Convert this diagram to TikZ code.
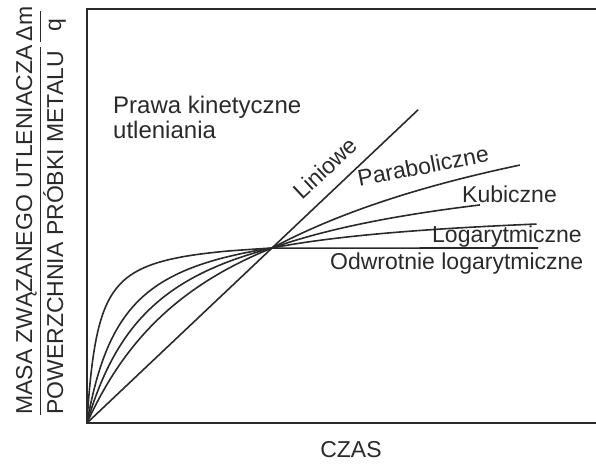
\documentclass[tikz,border=0pt]{standalone}
\usepackage{fontspec}
\setmainfont{Liberation Sans}
\usepackage{tikz}
\usetikzlibrary{positioning}
\definecolor{inkgray}{HTML}{2A2A2A}

\begin{document}
\begin{tikzpicture}[x=1pt,y=1pt,
  every node/.style={inner sep=0pt,text=inkgray,font=\fontsize{23}{25}\selectfont},
  curve/.style={inkgray,line width=1.6pt,smooth,samples=60}]
\useasboundingbox (0,0) rectangle (596,465);
\draw[inkgray,line width=1.3pt] (596,456)--(87,456)--(87,42)--(596,42);
\draw[curve,domain=0:1.79,samples=2] plot ({87+185*\x},{42+175*\x});
\foreach \c/\d/\te in {0.2/0.2575/2.43,0.38/0.595/2.124,0.75/1.28/2.34}
  \draw[curve] plot[domain=0:1] ({87+185*\x},{42+175*(1+\c)*\x/(\x+\c)})
    -- plot[domain=1:\te,samples=30] ({87+185*\x},{42+175*(1+\d)*\x/(\x+\d)});
\draw[curve,domain=0:1] plot ({87+185*0.06*\x/(1.06-\x)},{42+175*\x}) -- (538,217);
\node[rotate=43] (liniowe) at (325,297) {Liniowe};
\node[rotate=11] (parab) at (423,299) {Paraboliczne};
\node[anchor=base west] (kub) at (462,262) {Kubiczne};
\node[anchor=base west] (log) at (432,222) {Logarytmiczne};
\node[anchor=base west] (odwr) at (330,195) {Odwrotnie logarytmiczne};
\node[align=left,anchor=north west,font=\fontsize{24}{25}\selectfont] (prawa) at (113,369) {Prawa kinetyczne\\utleniania};
\node (czas) at (351,15) {CZAS};
\node[rotate=90,anchor=base west] (masa) at (32,50) {MASA ZWĄZANEGO UTLENIACZA};
\node[rotate=90,anchor=base west] (pow) at (63,50) {POWERZCHNIA PRÓBKI METALU};
\node[rotate=90,anchor=base] (dm) at (32,441) {Δm};
\node[rotate=90,anchor=base] (q) at (61,440) {q};
\draw[inkgray,line width=0.9pt] (40,50)--(40,418);
\draw[inkgray,line width=0.9pt] (40,423)--(40,454);
\end{tikzpicture}
\end{document}
